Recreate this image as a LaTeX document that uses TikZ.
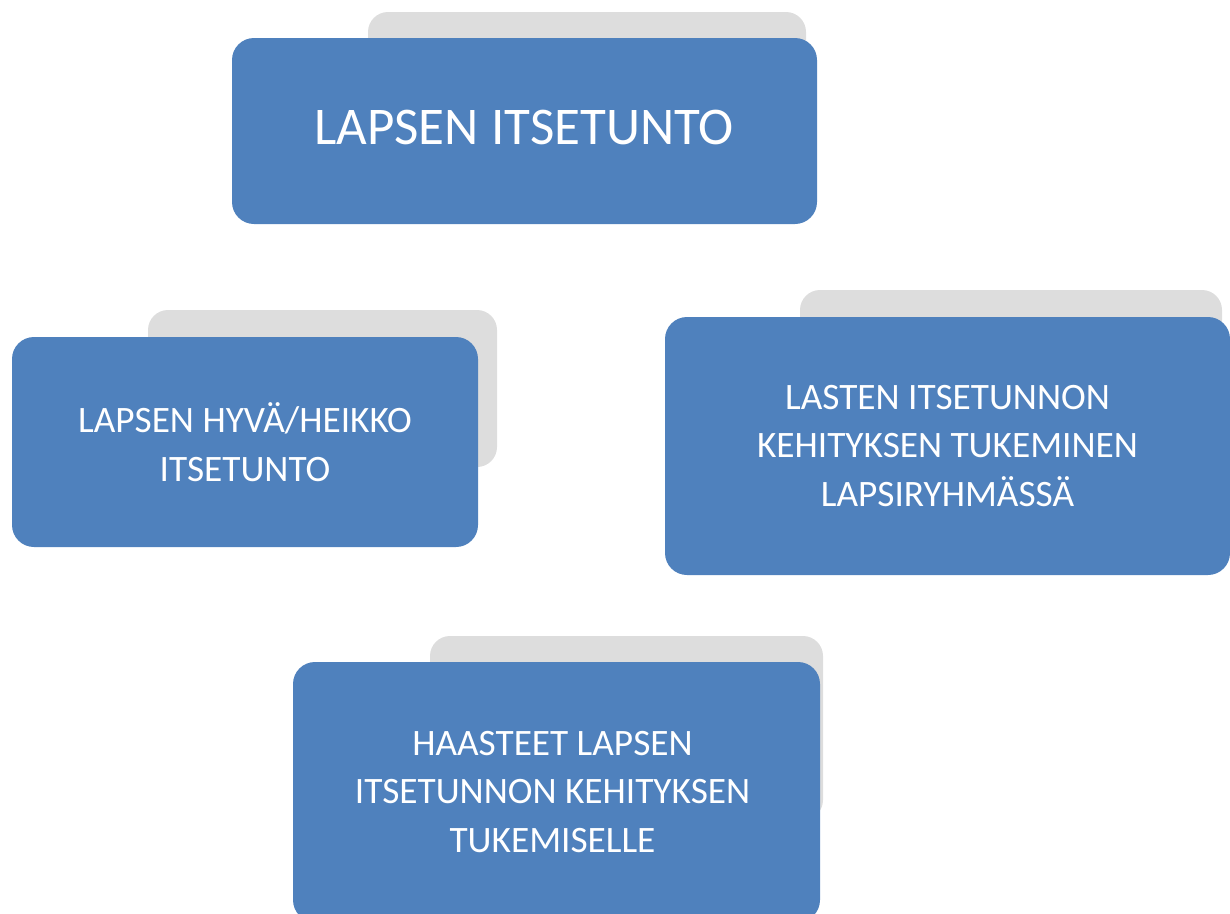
\documentclass[tikz,border=0pt]{standalone}
\usepackage{fontspec}
\setmainfont{Carlito}
\definecolor{boxblue}{HTML}{4F81BD}
\definecolor{shadowgray}{HTML}{DDDDDD}
\tikzset{
  bluebox/.style={rectangle, rounded corners=22pt, fill=boxblue, draw=none, text=white,
    align=center, inner sep=0pt, font=\fontsize{37.3}{48.5}\selectfont},
  graybox/.style={rectangle, rounded corners=20pt, fill=shadowgray, draw=none, inner sep=0pt}
}
\begin{document}
\begin{tikzpicture}[x=1pt,y=-1pt]
\useasboundingbox (0,0) rectangle (1230,913);
\clip (0,0) rectangle (1230,913);
% box 1
\node[graybox, minimum width=438pt, minimum height=140pt] (g1) at (587,82) {};
\node[bluebox, minimum width=585pt, minimum height=186pt] (b1) at (524.5,131) {};
\node[text=white, font=\fontsize{53}{64}\selectfont, inner sep=0pt] (t1) at (524,127) {LAPSEN ITSETUNTO};
% box 2
\node[graybox, minimum width=349pt, minimum height=157pt] (g2) at (322.5,388.5) {};
\node[bluebox, minimum width=466pt, minimum height=210pt] (b2) at (245,442) {LAPSEN HYVÄ/HEIKKO\\ITSETUNTO};
% box 3
\node[graybox, minimum width=422pt, minimum height=194pt] (g3) at (1011,387) {};
\node[bluebox, minimum width=565pt, minimum height=258pt] (b3) at (947.5,446) {LASTEN ITSETUNNON\\KEHITYKSEN TUKEMINEN\\LAPSIRYHMÄSSÄ};
% box 4
\node[graybox, minimum width=393pt, minimum height=184pt] (g4) at (626.5,728) {};
\node[bluebox, minimum width=527pt, minimum height=260pt] (b4) at (556.5,792) {};
\node[text=white, align=center, inner sep=0pt, font=\fontsize{37.3}{48.5}\selectfont] (t4) at (552.5,792) {HAASTEET LAPSEN\\ITSETUNNON KEHITYKSEN\\TUKEMISELLE};
\end{tikzpicture}
\end{document}
